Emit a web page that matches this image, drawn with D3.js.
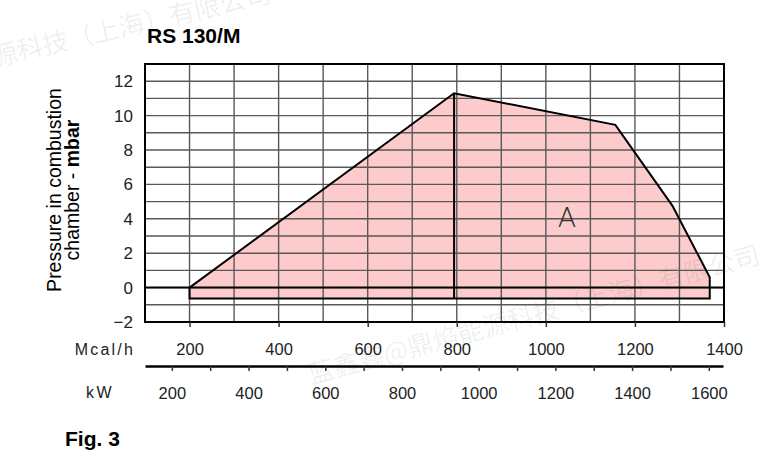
<!DOCTYPE html>
<html>
<head>
<meta charset="utf-8">
<script src="https://cdn.jsdelivr.net/npm/d3@7"></script>
<style>
  body { margin: 0; background: #fff; }
  svg text { font-family: "Liberation Sans", Arial, sans-serif; }
</style>
</head>
<body>
<svg id="chart" width="769" height="459"></svg>
<script>
// ---- data ----
const yTicks     = [-2, 0, 2, 4, 6, 8, 10, 12];
const mcalTicks  = [200, 400, 600, 800, 1000, 1200, 1400];
const kwTicks    = [200, 300, 400, 500, 600, 700, 800, 900, 1000, 1100, 1200, 1300, 1400, 1500, 1600];
const kwLabels   = [200, 400, 600, 800, 1000, 1200, 1400, 1600];
// working field "A" outline: Mcal/h vs mbar
const fieldMcal  = [200, 794, 1156, 1284, 1368, 1368, 200];
const fieldMbar  = [0, 11.3, 9.46, 4.77, 0.6, -0.64, -0.64];
const peakMcal   = 794;

const svg = d3.select("#chart");
const L = 145, R = 724, T = 64, B = 322;

const x  = d3.scaleLinear().domain([100, 1400]).range([L, R]);
const y  = d3.scaleLinear().domain([-2, 13]).range([B, T]);
const kw = d3.scaleLinear().domain([130, 1637]).range([L, 723]);

// watermark, top-left (cut by the edge as in the source)
svg.append("text").attr("transform", "translate(-82,84) rotate(-13)")
  .attr("fill", "#000").attr("fill-opacity", 0.07).attr("font-size", 26)
  .style("font-family", "Noto Sans CJK SC").text("鼎焰能源科技（上海）有限公司");

// field fill
const pts = fieldMcal.map((m, i) => [x(m), y(fieldMbar[i])]);
svg.append("path").attr("d", d3.line()(pts) + "Z").attr("fill", "#fdcbcb");

// grid
const grid = svg.append("g").attr("stroke", "#595959").attr("stroke-width", 1.4);
d3.range(200, 1400, 100).forEach(v =>
  grid.append("line").attr("x1", x(v)).attr("x2", x(v)).attr("y1", T).attr("y2", B));
d3.range(-1, 13, 1).forEach(v =>
  grid.append("line").attr("x1", L).attr("x2", R).attr("y1", y(v)).attr("y2", y(v)));

// field outline + split line
svg.append("path").attr("d", d3.line()(pts) + "Z")
  .attr("fill", "none").attr("stroke", "#000").attr("stroke-width", 2);
svg.append("line").attr("x1", x(peakMcal)).attr("x2", x(peakMcal))
  .attr("y1", y(fieldMbar[1])).attr("y2", y(-0.64))
  .attr("stroke", "#000").attr("stroke-width", 2);

// zero line
svg.append("line").attr("x1", L).attr("x2", R).attr("y1", y(0)).attr("y2", y(0))
  .attr("stroke", "#000").attr("stroke-width", 2);

// frame
svg.append("rect").attr("x", L).attr("y", T).attr("width", R - L).attr("height", B - T)
  .attr("fill", "none").attr("stroke", "#000").attr("stroke-width", 2);

svg.append("text").attr("x", 567).attr("y", 227).attr("text-anchor", "middle")
  .attr("font-size", 27).attr("fill", "#333").style("font-family", "DejaVu Sans")
  .attr("font-weight", 200).text("A");

// y axis
const gy = svg.append("g").attr("transform", `translate(${L},0)`)
  .call(d3.axisLeft(y).tickValues(yTicks).tickSize(0).tickPadding(12)
    .tickFormat(d => d < 0 ? "−" + Math.abs(d) : d));
gy.select(".domain").remove();
gy.selectAll("text").attr("font-size", 17).attr("fill", "#222")
  .style("font-family", "Liberation Sans");

// Mcal/h axis
const gx = svg.append("g").attr("transform", `translate(0,${B})`)
  .call(d3.axisBottom(x).tickValues(mcalTicks).tickSize(5).tickPadding(16).tickFormat(d => d));
gx.select(".domain").remove();
gx.selectAll("line").attr("stroke", "#333").attr("stroke-width", 1.5);
gx.selectAll("text").attr("font-size", 16.5).attr("fill", "#222")
  .style("font-family", "Liberation Sans");

// kW axis
const gk = svg.append("g").attr("transform", "translate(0,366)")
  .call(d3.axisBottom(kw).tickValues(kwTicks).tickSize(5).tickSizeOuter(0).tickPadding(16)
    .tickFormat(d => kwLabels.includes(d) ? d : ""));
gk.select(".domain").attr("stroke", "#000").attr("stroke-width", 2.4);
gk.selectAll(".tick line").attr("stroke", "#333").attr("stroke-width", 1.5);
gk.selectAll("text").attr("font-size", 16.5).attr("fill", "#222")
  .style("font-family", "Liberation Sans");

// unit labels
svg.append("text").attr("x", 135).attr("y", 355).attr("text-anchor", "end")
  .attr("font-size", 16).attr("fill", "#222").attr("letter-spacing", 2.2).text("Mcal/h");
svg.append("text").attr("x", 114).attr("y", 398).attr("text-anchor", "end")
  .attr("font-size", 16).attr("fill", "#222").attr("letter-spacing", 2.5).text("kW");

// y label
const yl = svg.append("text").attr("transform", "translate(0,190) rotate(-90)")
  .attr("text-anchor", "middle").attr("font-size", 19.5).attr("fill", "#000");
yl.append("tspan").attr("x", 0).attr("y", 61).text("Pressure in combustion");
const l2 = yl.append("tspan").attr("x", 0).attr("y", 79);
l2.append("tspan").text("chamber - ");
l2.append("tspan").attr("font-weight", "bold").text("mbar");

// title + caption
svg.append("text").attr("x", 147).attr("y", 43).attr("font-size", 21)
  .attr("font-weight", "bold").text("RS 130/M");
svg.append("text").attr("x", 65).attr("y", 446).attr("font-size", 21)
  .attr("font-weight", "bold").text("Fig. 3");

// watermark over the lower part
svg.append("text").attr("transform", "translate(311,384) rotate(-15)")
  .attr("fill", "#000").attr("fill-opacity", 0.07).attr("font-size", 26)
  .style("font-family", "Noto Sans CJK SC").text("蓝鑫鑫@鼎焰能源科技（上海）有限公司");
</script>
</body>
</html>
